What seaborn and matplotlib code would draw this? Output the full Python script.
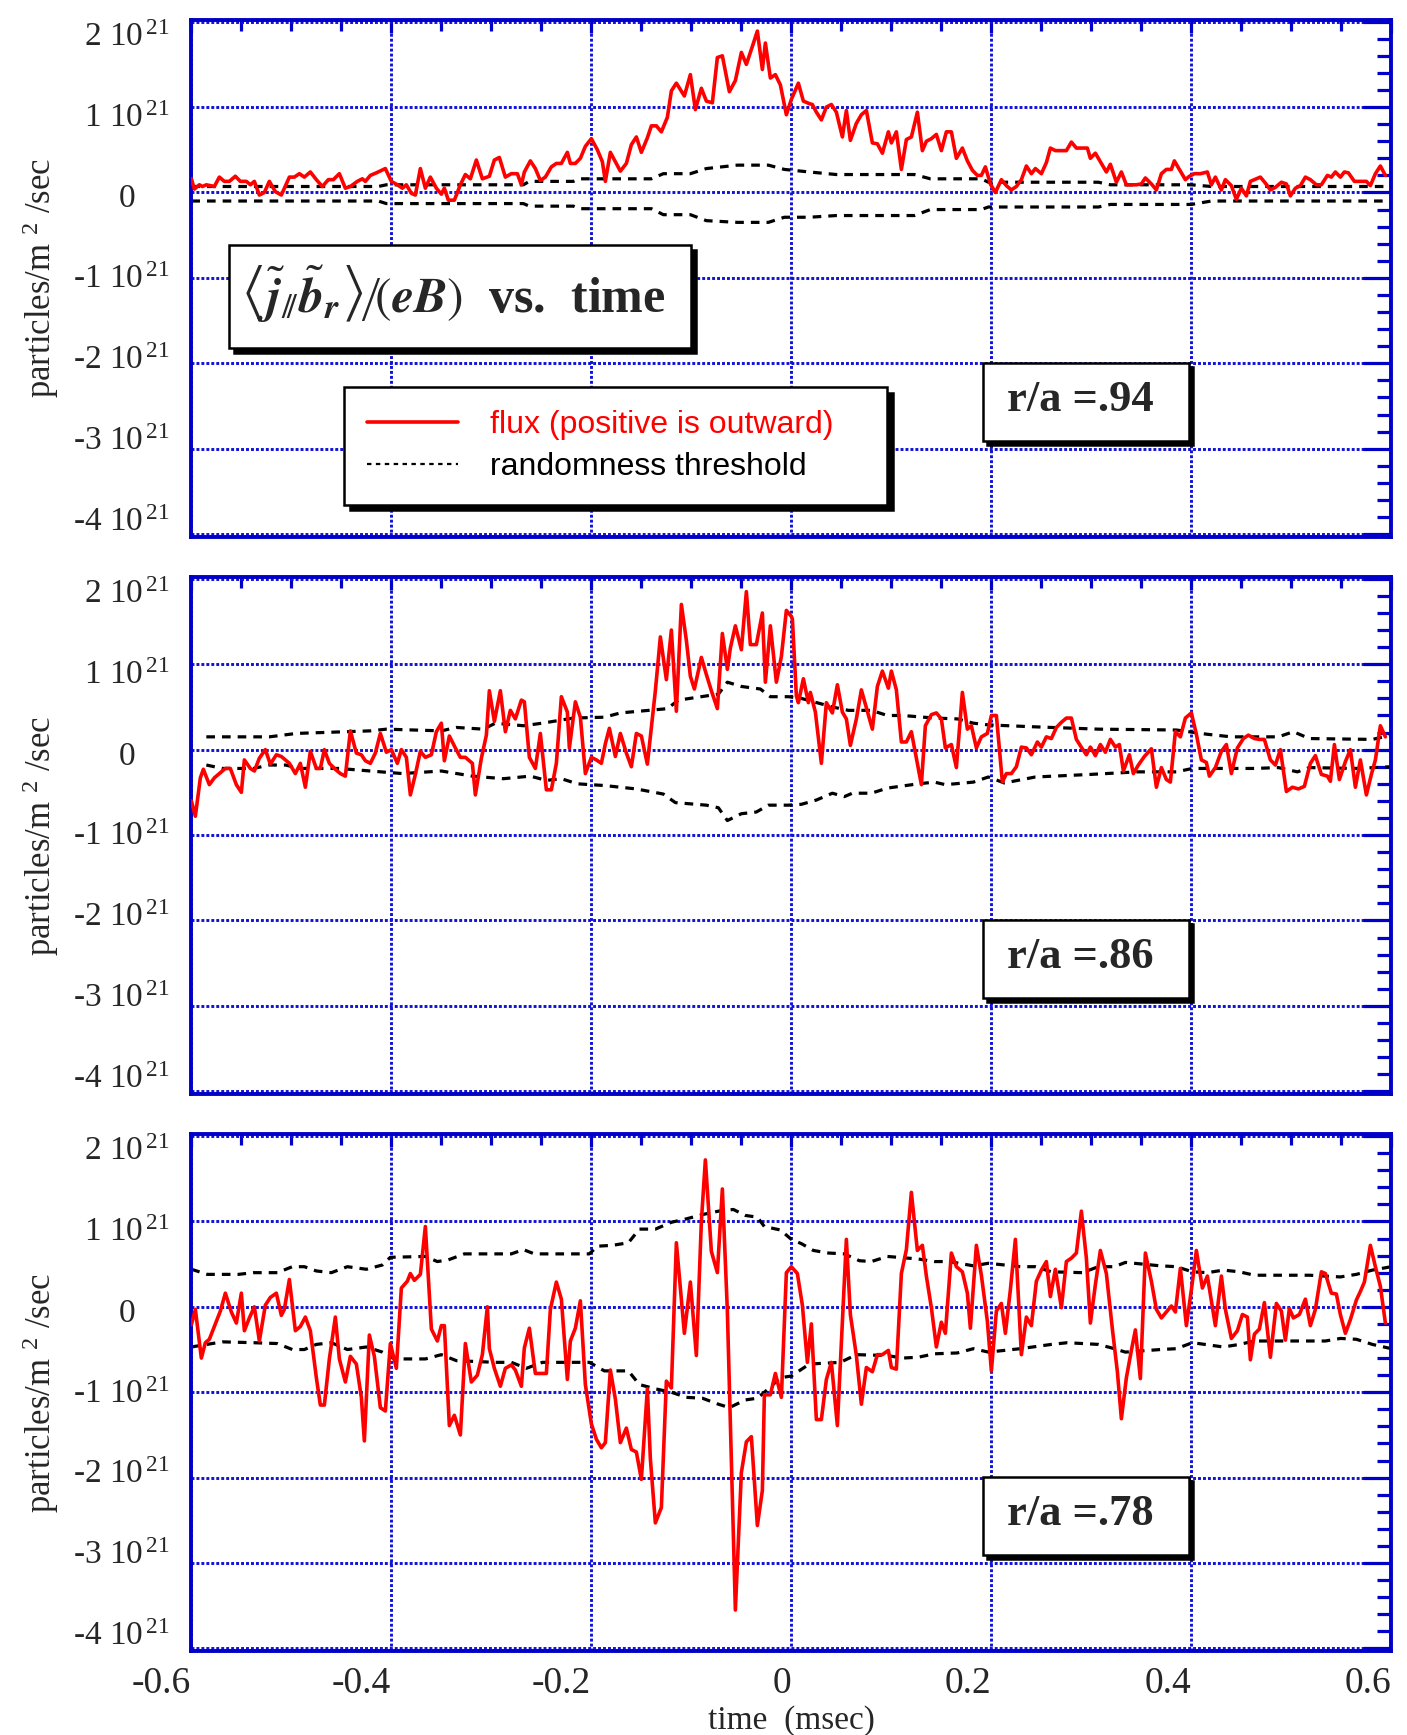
import matplotlib
matplotlib.use("Agg")
import matplotlib.pyplot as plt
import matplotlib.transforms as mtransforms
from matplotlib.patches import Rectangle
from matplotlib.ticker import FixedLocator, MultipleLocator, FuncFormatter
import pandas as pd
import seaborn as sns

# ---------------------------------------------------------------------------
# Flux <j_par b_r>/(eB) in units of 1e21 particles/m^2/sec, time in msec
# ---------------------------------------------------------------------------

# r/a = .94
t_flux_94 = [
    -0.600, -0.597, -0.592, -0.589, -0.585, -0.581, -0.577, -0.572, -0.567, -0.562,
    -0.556, -0.551, -0.545, -0.541, -0.537, -0.532, -0.527, -0.522, -0.516, -0.510,
    -0.502, -0.497, -0.492, -0.487, -0.481, -0.475, -0.469, -0.463, -0.458, -0.452,
    -0.446, -0.441, -0.434, -0.429, -0.426, -0.421, -0.415, -0.406, -0.400, -0.394,
    -0.389, -0.385, -0.380, -0.376, -0.371, -0.366, -0.361, -0.355, -0.350, -0.347,
    -0.343, -0.337, -0.331, -0.326, -0.321, -0.315, -0.309, -0.302, -0.297, -0.292,
    -0.286, -0.280, -0.274, -0.270, -0.267, -0.261, -0.256, -0.251, -0.246, -0.240,
    -0.235, -0.230, -0.224, -0.221, -0.216, -0.211, -0.206, -0.200, -0.194, -0.189,
    -0.186, -0.181, -0.176, -0.171, -0.165, -0.160, -0.155, -0.150, -0.144, -0.140,
    -0.135, -0.130, -0.124, -0.120, -0.115, -0.107, -0.101, -0.096, -0.090, -0.085,
    -0.079, -0.074, -0.069, -0.062, -0.056, -0.050, -0.045, -0.039, -0.034, -0.029,
    -0.026, -0.021, -0.016, -0.011, -0.005, 0.000,
    0.007, 0.012, 0.018, 0.021, 0.025, 0.030, 0.035, 0.040, 0.045, 0.051,
    0.055, 0.059, 0.065, 0.070, 0.075, 0.081, 0.086, 0.091, 0.097, 0.100,
    0.105, 0.110, 0.115, 0.120, 0.126, 0.131, 0.135, 0.140, 0.145, 0.150,
    0.155, 0.160, 0.165, 0.171, 0.176, 0.181, 0.186, 0.190, 0.194, 0.199,
    0.204, 0.210, 0.215, 0.220, 0.225, 0.230, 0.235, 0.240, 0.244, 0.250,
    0.255, 0.259, 0.264, 0.270, 0.275, 0.280, 0.285, 0.291, 0.296, 0.299,
    0.304, 0.309, 0.315, 0.319, 0.325, 0.330, 0.335, 0.340, 0.345, 0.350,
    0.354, 0.360, 0.365, 0.370, 0.375, 0.380, 0.383, 0.388, 0.394, 0.398,
    0.403, 0.409, 0.416, 0.420, 0.424, 0.430, 0.434, 0.440, 0.445, 0.450,
    0.455, 0.459, 0.463, 0.469, 0.474, 0.479, 0.484, 0.490, 0.495, 0.499,
    0.504, 0.509, 0.514, 0.519, 0.525, 0.530, 0.536, 0.540, 0.544, 0.549,
    0.553, 0.557, 0.563, 0.569, 0.575, 0.579, 0.584, 0.589, 0.594,
]
flux_94 = [
    0.16, 0.04, 0.09, 0.07, 0.09, 0.08, 0.07, 0.18, 0.13, 0.13,
    0.19, 0.13, 0.13, 0.09, 0.13, -0.03, 0.00, 0.13, 0.01, -0.03,
    0.18, 0.18, 0.22, 0.18, 0.24, 0.15, 0.07, 0.15, 0.15, 0.22,
    0.05, 0.07, 0.13, 0.16, 0.13, 0.20, 0.23, 0.28, 0.13, 0.09,
    0.05, 0.09, -0.01, -0.03, 0.28, 0.05, 0.18, 0.05, -0.02, 0.05,
    -0.09, -0.09, 0.09, 0.21, 0.16, 0.38, 0.16, 0.19, 0.38, 0.41,
    0.18, 0.22, 0.22, 0.09, 0.24, 0.37, 0.28, 0.14, 0.18, 0.30,
    0.34, 0.34, 0.47, 0.34, 0.34, 0.40, 0.54, 0.63, 0.50, 0.36,
    0.13, 0.47, 0.36, 0.25, 0.34, 0.56, 0.65, 0.47, 0.64, 0.78,
    0.78, 0.71, 0.88, 1.19, 1.28, 1.13, 1.38, 0.97, 1.22, 1.07,
    1.05, 1.58, 1.60, 1.18, 1.31, 1.64, 1.50, 1.71, 1.89, 1.44,
    1.75, 1.34, 1.38, 1.26, 0.91, 1.09,
    1.28, 1.07, 1.04, 1.03, 0.94, 0.85, 1.00, 1.03, 0.94, 0.65,
    0.96, 0.61, 0.81, 0.91, 0.96, 0.58, 0.57, 0.46, 0.71, 0.58,
    0.71, 0.27, 0.62, 0.65, 0.94, 0.49, 0.60, 0.63, 0.68, 0.49,
    0.71, 0.71, 0.40, 0.52, 0.37, 0.26, 0.20, 0.20, 0.30, 0.10,
    0.00, 0.15, 0.08, 0.03, 0.07, 0.15, 0.31, 0.22, 0.28, 0.22,
    0.35, 0.52, 0.49, 0.49, 0.49, 0.59, 0.52, 0.52, 0.52, 0.40,
    0.46, 0.36, 0.24, 0.33, 0.12, 0.24, 0.09, 0.09, 0.09, 0.10,
    0.17, 0.10, 0.03, 0.22, 0.27, 0.27, 0.37, 0.27, 0.15, 0.19,
    0.22, 0.22, 0.24, 0.09, 0.18, 0.03, 0.15, 0.08, -0.08, 0.05,
    -0.04, 0.13, 0.15, 0.18, 0.11, 0.03, 0.06, 0.12, 0.10, -0.04,
    0.05, 0.08, 0.18, 0.15, 0.09, 0.09, 0.20, 0.18, 0.24, 0.18,
    0.24, 0.23, 0.13, 0.13, 0.13, 0.08, 0.22, 0.31, 0.20,
]
t_thr_94 = [-0.600, -0.413, -0.405, -0.268, -0.262, -0.218, -0.212, -0.140, -0.128,
            -0.101, -0.085, -0.054, -0.023, -0.007, 0.018, 0.045, 0.123, 0.139,
            0.190, 0.197, 0.307, 0.319, 0.400, 0.420, 0.600]
thr_hi_94 = [0.07, 0.07, 0.09, 0.09, 0.13, 0.13, 0.16, 0.16, 0.22, 0.22, 0.28, 0.32,
             0.32, 0.27, 0.24, 0.21, 0.21, 0.16, 0.16, 0.12, 0.12, 0.09, 0.09, 0.07, 0.07]
thr_lo_94 = [-0.10, -0.10, -0.13, -0.13, -0.16, -0.16, -0.19, -0.19, -0.26, -0.26, -0.33,
             -0.35, -0.35, -0.29, -0.29, -0.27, -0.27, -0.20, -0.20, -0.17, -0.17, -0.14,
             -0.14, -0.10, -0.10]

# r/a = .86
t_flux_86 = [
    -0.600, -0.596, -0.591, -0.588, -0.582, -0.577, -0.571, -0.566, -0.561, -0.555,
    -0.550, -0.547, -0.541, -0.537, -0.532, -0.526, -0.521, -0.515, -0.510, -0.505,
    -0.502, -0.496, -0.491, -0.486, -0.481, -0.475, -0.471, -0.467, -0.462, -0.456,
    -0.451, -0.446, -0.441, -0.435, -0.430, -0.426, -0.421, -0.416, -0.411, -0.405,
    -0.400, -0.394, -0.390, -0.385, -0.381, -0.376, -0.371, -0.366, -0.360, -0.355,
    -0.350, -0.347, -0.342, -0.336, -0.331, -0.326, -0.319, -0.316, -0.310, -0.305,
    -0.302, -0.297, -0.291, -0.286, -0.281, -0.276, -0.270, -0.267, -0.262, -0.256,
    -0.251, -0.245, -0.240, -0.235, -0.230, -0.224, -0.222, -0.216, -0.211, -0.206,
    -0.200, -0.195, -0.190, -0.186, -0.182, -0.176, -0.171, -0.165, -0.160, -0.155,
    -0.150, -0.144, -0.136, -0.131, -0.125, -0.120, -0.115, -0.110, -0.105, -0.101,
    -0.097, -0.090, -0.085, -0.080, -0.074, -0.069, -0.064, -0.061, -0.056, -0.050,
    -0.045, -0.041, -0.035, -0.029, -0.026, -0.021, -0.015, -0.010, -0.005, 0.000,
    0.001, 0.005, 0.007, 0.012, 0.017, 0.019, 0.024, 0.030, 0.035, 0.041,
    0.046, 0.051, 0.055, 0.059, 0.065, 0.070, 0.075, 0.081, 0.086, 0.091,
    0.097, 0.100, 0.105, 0.110, 0.115, 0.120, 0.130, 0.134, 0.140, 0.145,
    0.150, 0.154, 0.160, 0.165, 0.171, 0.176, 0.180, 0.185, 0.190, 0.196,
    0.200, 0.205, 0.211, 0.215, 0.220, 0.225, 0.230, 0.235, 0.240, 0.246,
    0.250, 0.255, 0.260, 0.265, 0.270, 0.275, 0.280, 0.285, 0.291, 0.295,
    0.299, 0.304, 0.309, 0.314, 0.319, 0.324, 0.328, 0.332, 0.338, 0.342,
    0.347, 0.353, 0.360, 0.365, 0.370, 0.375, 0.379, 0.384, 0.389, 0.394,
    0.400, 0.405, 0.410, 0.415, 0.418, 0.424, 0.430, 0.435, 0.440, 0.446,
    0.452, 0.457, 0.463, 0.468, 0.473, 0.479, 0.484, 0.489, 0.495, 0.501,
    0.507, 0.513, 0.519, 0.524, 0.530, 0.536, 0.539, 0.543, 0.548, 0.554,
    0.559, 0.564, 0.569, 0.575, 0.580, 0.584, 0.589, 0.594,
]
flux_86 = [
    -0.60, -0.78, -0.33, -0.23, -0.41, -0.33, -0.27, -0.22, -0.22, -0.41,
    -0.50, -0.12, -0.22, -0.25, -0.10, 0.00, -0.17, -0.06, -0.08, -0.13,
    -0.16, -0.28, -0.16, -0.44, -0.02, -0.22, -0.22, 0.00, -0.16, -0.23,
    -0.28, -0.31, 0.22, -0.04, -0.06, -0.13, -0.16, -0.04, 0.19, -0.03,
    0.00, -0.16, 0.00, -0.09, -0.53, -0.29, -0.02, -0.09, -0.06, 0.21,
    0.31, -0.13, 0.16, 0.02, -0.09, -0.09, -0.16, -0.53, -0.10, 0.17,
    0.69, 0.33, 0.69, 0.21, 0.46, 0.36, 0.58, 0.56, -0.09, -0.22,
    0.19, -0.47, -0.47, -0.16, 0.62, 0.44, 0.02, 0.56, 0.38, -0.28,
    -0.09, -0.12, -0.16, 0.07, 0.25, -0.08, 0.19, -0.04, -0.20, 0.19,
    0.16, -0.17, 0.69, 1.32, 0.82, 1.40, 0.45, 1.70, 1.28, 0.86,
    0.71, 1.08, 0.88, 0.69, 0.48, 1.36, 0.94, 1.19, 1.45, 1.17,
    1.85, 1.23, 1.23, 1.60, 0.79, 1.45, 0.79, 1.09, 1.63, 1.56,
    1.53, 0.63, 0.55, 0.83, 0.55, 0.67, 0.44, -0.16, 0.55, 0.43,
    0.76, 0.44, 0.36, 0.05, 0.36, 0.70, 0.49, 0.24, 0.74, 0.92,
    0.72, 0.92, 0.70, 0.09, 0.09, 0.21, -0.41, 0.28, 0.41, 0.43,
    0.36, 0.02, 0.06, -0.21, 0.67, 0.24, 0.28, 0.02, 0.15, 0.19,
    0.40, 0.40, -0.38, -0.28, -0.28, -0.20, 0.03, 0.02, -0.06, 0.09,
    0.03, 0.15, 0.13, 0.26, 0.32, 0.37, 0.37, 0.12, 0.01, -0.06,
    0.03, -0.07, 0.06, -0.03, 0.12, 0.03, 0.06, -0.25, -0.06, -0.28,
    -0.18, -0.08, 0.01, -0.44, -0.21, -0.35, -0.38, 0.21, 0.15, 0.37,
    0.43, 0.18, -0.12, -0.15, -0.31, -0.21, -0.02, 0.06, -0.28, 0.02,
    0.13, 0.17, 0.13, 0.12, 0.12, -0.12, -0.18, 0.00, -0.49, -0.44,
    -0.46, -0.43, -0.16, -0.07, -0.29, -0.31, -0.37, 0.06, -0.35, -0.14,
    0.00, -0.44, -0.12, -0.53, -0.29, -0.12, 0.28, 0.15,
]
t_thr_hi_86 = [-0.585, -0.522, -0.495, -0.421, -0.405, -0.350, -0.335, -0.308, -0.296,
               -0.268, -0.249, -0.218, -0.187, -0.171, -0.124, -0.113, -0.073, -0.064,
               -0.050, -0.031, -0.021, -0.003, 0.010, 0.041, 0.057, 0.080, 0.096, 0.111,
               0.143, 0.166, 0.182, 0.197, 0.237, 0.307, 0.385, 0.416, 0.440, 0.487,
               0.502, 0.518, 0.581, 0.600]
thr_hi_86 = [0.15, 0.15, 0.19, 0.22, 0.24, 0.22, 0.26, 0.24, 0.31, 0.28, 0.31, 0.37,
             0.38, 0.43, 0.48, 0.58, 0.65, 0.79, 0.74, 0.71, 0.62, 0.62, 0.60, 0.50,
             0.46, 0.46, 0.40, 0.40, 0.37, 0.36, 0.31, 0.29, 0.27, 0.24, 0.23, 0.18,
             0.15, 0.15, 0.21, 0.13, 0.12, 0.17]
t_thr_lo_86 = [-0.585, -0.569, -0.538, -0.522, -0.506, -0.491, -0.452, -0.421, -0.389,
               -0.350, -0.319, -0.288, -0.261, -0.245, -0.230, -0.214, -0.187, -0.155,
               -0.128, -0.116, -0.085, -0.073, -0.064, -0.050, -0.035, -0.023, -0.003,
               0.010, 0.025, 0.041, 0.053, 0.061, 0.080, 0.096, 0.127, 0.143, 0.154,
               0.182, 0.197, 0.213, 0.244, 0.299, 0.346, 0.385, 0.401, 0.463, 0.487,
               0.506, 0.518, 0.565, 0.600]
thr_lo_86 = [-0.18, -0.22, -0.22, -0.18, -0.18, -0.22, -0.22, -0.25, -0.28, -0.25,
             -0.31, -0.34, -0.31, -0.36, -0.34, -0.40, -0.42, -0.46, -0.52, -0.62,
             -0.65, -0.68, -0.83, -0.75, -0.73, -0.65, -0.65, -0.64, -0.59, -0.51,
             -0.55, -0.51, -0.51, -0.45, -0.40, -0.38, -0.41, -0.38, -0.32, -0.39,
             -0.32, -0.29, -0.26, -0.26, -0.22, -0.22, -0.21, -0.26, -0.21, -0.22,
             -0.20]

# r/a = .78
t_flux_78 = [
    -0.600, -0.596, -0.590, -0.586, -0.582, -0.577, -0.571, -0.566, -0.560, -0.555,
    -0.550, -0.547, -0.542, -0.537, -0.532, -0.526, -0.521, -0.515, -0.510, -0.507,
    -0.502, -0.496, -0.491, -0.486, -0.481, -0.475, -0.471, -0.467, -0.462, -0.456,
    -0.452, -0.446, -0.441, -0.435, -0.430, -0.427, -0.422, -0.417, -0.411, -0.406,
    -0.401, -0.395, -0.390, -0.384, -0.381, -0.377, -0.371, -0.366, -0.360, -0.354,
    -0.350, -0.347, -0.342, -0.337, -0.331, -0.326, -0.320, -0.314, -0.309, -0.304,
    -0.302, -0.297, -0.291, -0.286, -0.280, -0.276, -0.270, -0.267, -0.262, -0.256,
    -0.251, -0.245, -0.241, -0.235, -0.230, -0.224, -0.221, -0.216, -0.211, -0.206,
    -0.200, -0.195, -0.190, -0.186, -0.181, -0.176, -0.171, -0.165, -0.160, -0.155,
    -0.150, -0.144, -0.141, -0.136, -0.130, -0.125, -0.120, -0.115, -0.107, -0.101,
    -0.095, -0.090, -0.086, -0.080, -0.074, -0.069, -0.064, -0.060, -0.056, -0.050,
    -0.045, -0.040, -0.034, -0.029, -0.027, -0.021, -0.016, -0.010, -0.005, 0.000,
    0.006, 0.011, 0.016, 0.020, 0.025, 0.030, 0.035, 0.040, 0.046, 0.055,
    0.059, 0.065, 0.070, 0.075, 0.081, 0.086, 0.091, 0.097, 0.100, 0.105,
    0.110, 0.115, 0.120, 0.126, 0.131, 0.135, 0.140, 0.145, 0.150, 0.154,
    0.160, 0.165, 0.171, 0.176, 0.179, 0.185, 0.190, 0.196, 0.200, 0.205,
    0.210, 0.214, 0.219, 0.224, 0.230, 0.235, 0.240, 0.245, 0.250, 0.255,
    0.259, 0.264, 0.270, 0.275, 0.280, 0.285, 0.290, 0.295, 0.299, 0.304,
    0.309, 0.315, 0.321, 0.326, 0.330, 0.335, 0.340, 0.344, 0.349, 0.354,
    0.360, 0.365, 0.370, 0.375, 0.380, 0.384, 0.389, 0.395, 0.400, 0.405,
    0.411, 0.416, 0.420, 0.424, 0.430, 0.434, 0.440, 0.446, 0.451, 0.456,
    0.459, 0.463, 0.468, 0.473, 0.479, 0.485, 0.490, 0.494, 0.498, 0.502,
    0.508, 0.514, 0.519, 0.524, 0.530, 0.534, 0.540, 0.545, 0.549, 0.554,
    0.559, 0.565, 0.569, 0.573, 0.579, 0.584, 0.589, 0.594,
]
flux_78 = [
    -0.21, -0.03, -0.60, -0.42, -0.38, -0.23, -0.05, 0.16, -0.06, -0.19,
    0.16, -0.28, -0.13, 0.00, -0.40, 0.02, 0.11, 0.16, -0.10, -0.03,
    0.32, -0.28, -0.23, -0.12, -0.28, -0.83, -1.15, -1.15, -0.61, -0.12,
    -0.61, -0.88, -0.58, -0.67, -1.06, -1.57, -0.33, -0.58, -1.18, -1.22,
    -0.43, -0.72, 0.22, 0.30, 0.39, 0.31, 0.38, 0.94, -0.26, -0.40,
    -0.22, -0.22, -1.39, -1.27, -1.50, -0.43, -0.88, -0.80, -0.56, 0.00,
    -0.49, -0.72, -0.93, -0.72, -0.68, -0.74, -0.93, -0.48, -0.25, -0.78,
    -0.78, -0.78, -0.03, 0.29, 0.09, -0.85, -0.40, -0.25, 0.07, -0.91,
    -1.37, -1.55, -1.65, -1.59, -0.74, -1.08, -1.59, -1.42, -1.67, -1.70,
    -2.02, -0.96, -1.78, -2.53, -2.35, -0.87, -0.95, 0.75, -0.31, 0.29,
    -0.57, 1.00, 1.72, 0.65, 0.40, 1.38, -0.05, -1.82, -3.55, -1.94,
    -1.58, -1.52, -2.56, -2.15, -1.03, -1.03, -0.78, -1.06, 0.40, 0.47,
    0.39, 0.02, -0.65, -0.20, -1.32, -1.32, -0.85, -0.65, -1.39, 0.79,
    -0.09, -0.57, -1.14, -0.71, -0.76, -0.56, -0.56, -0.51, -0.71, -0.73,
    0.39, 0.67, 1.34, 0.66, 0.72, 0.36, -0.01, -0.47, -0.18, -0.31,
    0.63, 0.47, 0.41, 0.16, -0.25, 0.72, 0.37, -0.17, -0.75, -0.05,
    0.04, -0.31, 0.20, 0.79, -0.56, -0.12, -0.22, 0.30, 0.43, 0.53,
    0.12, 0.44, -0.01, 0.53, 0.57, 0.63, 1.12, 0.57, -0.19, 0.26,
    0.66, 0.39, -0.26, -0.76, -1.31, -0.83, -0.51, -0.27, -0.84, 0.63,
    0.30, -0.03, -0.13, -0.06, 0.01, -0.06, 0.45, -0.22, 0.20, 0.66,
    0.22, 0.36, 0.07, -0.22, 0.36, -0.03, -0.37, -0.28, -0.09, -0.12,
    -0.62, -0.32, -0.26, 0.05, -0.59, 0.04, -0.05, -0.39, -0.02, -0.13,
    -0.09, 0.09, -0.22, -0.03, 0.41, 0.39, 0.16, 0.15, -0.09, -0.31,
    -0.15, 0.08, 0.18, 0.29, 0.72, 0.47, 0.24, -0.19,
]
t_thr_hi_78 = [-0.600, -0.584, -0.553, -0.538, -0.514, -0.499, -0.487, -0.475, -0.460,
               -0.444, -0.425, -0.409, -0.401, -0.366, -0.354, -0.343, -0.327, -0.280,
               -0.268, -0.257, -0.202, -0.194, -0.179, -0.163, -0.152, -0.136, -0.120,
               -0.105, -0.089, -0.073, -0.058, -0.046, -0.034, -0.027, -0.011, 0.000,
               0.010, 0.022, 0.037, 0.053, 0.068, 0.080, 0.096, 0.127, 0.143, 0.158,
               0.182, 0.197, 0.229, 0.244, 0.260, 0.291, 0.307, 0.323, 0.334, 0.369,
               0.385, 0.401, 0.416, 0.432, 0.448, 0.463, 0.518, 0.549, 0.565, 0.581,
               0.600]
thr_hi_78 = [0.44, 0.38, 0.38, 0.40, 0.40, 0.47, 0.47, 0.42, 0.40, 0.47,
             0.44, 0.49, 0.58, 0.59, 0.53, 0.55, 0.62, 0.62, 0.67, 0.62,
             0.62, 0.71, 0.72, 0.75, 0.91, 0.91, 0.99, 1.03, 1.08, 1.12,
             1.14, 1.07, 1.05, 0.94, 0.90, 0.79, 0.74, 0.66, 0.63, 0.62,
             0.54, 0.53, 0.59, 0.56, 0.53, 0.53, 0.48, 0.51, 0.47, 0.47,
             0.41, 0.40, 0.47, 0.47, 0.52, 0.48, 0.47, 0.41, 0.40, 0.43,
             0.41, 0.37, 0.37, 0.35, 0.38, 0.43, 0.47]
t_thr_lo_78 = [-0.600, -0.569, -0.538, -0.514, -0.499, -0.487, -0.475, -0.460, -0.444,
               -0.425, -0.409, -0.397, -0.366, -0.350, -0.335, -0.296, -0.280, -0.265,
               -0.249, -0.202, -0.187, -0.163, -0.152, -0.136, -0.120, -0.105, -0.089,
               -0.073, -0.062, -0.046, -0.034, -0.023, -0.011, 0.000, 0.018, 0.049,
               0.065, 0.096, 0.111, 0.127, 0.143, 0.166, 0.182, 0.197, 0.229, 0.260,
               0.276, 0.307, 0.323, 0.334, 0.369, 0.385, 0.401, 0.432, 0.448, 0.463,
               0.534, 0.549, 0.565, 0.581, 0.600]
thr_lo_78 = [-0.47, -0.41, -0.42, -0.43, -0.50, -0.50, -0.44, -0.42, -0.50, -0.47,
             -0.53, -0.61, -0.61, -0.56, -0.63, -0.65, -0.65, -0.72, -0.65, -0.65,
             -0.75, -0.75, -0.91, -0.96, -1.00, -1.06, -1.07, -1.14, -1.18, -1.09,
             -1.07, -0.96, -0.83, -0.81, -0.67, -0.65, -0.56, -0.57, -0.60, -0.59,
             -0.55, -0.54, -0.49, -0.53, -0.49, -0.44, -0.42, -0.44, -0.49, -0.53,
             -0.50, -0.49, -0.42, -0.47, -0.44, -0.40, -0.40, -0.37, -0.38, -0.44,
             -0.49]

# axis ticks and labels
x_ticks = [-0.6, -0.4, -0.2, 0.0, 0.2, 0.4, 0.6]
x_tick_labels = ["-0.6", "-0.4", "-0.2", "0", "0.2", "0.4", "0.6"]
y_ticks = [-4, -3, -2, -1, 0, 1, 2]
radius_labels = ["r/a =.94", "r/a =.86", "r/a =.78"]
flux_label = "flux (positive is outward)"
threshold_label = "randomness threshold"

# ---------------------------------------------------------------------------
sns.set_style("white")
plt.rcParams.update({
    "font.family": ["Liberation Serif", "DejaVu Serif"],
    "mathtext.fontset": "custom",
    "mathtext.rm": "Liberation Serif",
    "mathtext.it": "Liberation Serif:italic",
    "mathtext.bf": "Liberation Serif:bold",
    "axes.unicode_minus": False,
})

FRAME_BLUE = "#0000c8"
GRID_BLUE = "#1010d8"
FLUX_RED = "#ff0000"
THR_STYLE = (0, (2.7, 2.2))

fig, axes = plt.subplots(3, 1, figsize=(14.07, 17.35), dpi=100)
fig.subplots_adjust(left=0.1360, right=0.9889, top=0.9885, bottom=0.0484, hspace=0.0783)


def y_fmt(v, pos):
    n = int(round(v))
    if n == 0:
        return "0    "
    return f"{n} 10$^{{\\,21}}$"


def boxed(ax, x0, y0, w, h, off=5, lw=1.8, z=8):
    fig_ = ax.figure
    shadow_tr = mtransforms.offset_copy(ax.transAxes, fig=fig_, x=off, y=-off, units="dots")
    ax.add_patch(Rectangle((x0, y0), w, h, transform=shadow_tr, fc="black", ec="black",
                           lw=lw, zorder=z, clip_on=False))
    ax.add_patch(Rectangle((x0, y0), w, h, transform=ax.transAxes, fc="white", ec="black",
                           lw=lw, zorder=z + 0.5, clip_on=False))


panels = [
    (t_flux_94, flux_94, t_thr_94, thr_hi_94, t_thr_94, thr_lo_94),
    (t_flux_86, flux_86, t_thr_hi_86, thr_hi_86, t_thr_lo_86, thr_lo_86),
    (t_flux_78, flux_78, t_thr_hi_78, thr_hi_78, t_thr_lo_78, thr_lo_78),
]

for i, (ax, (tf, fl, th, hi, tl, lo)) in enumerate(zip(axes, panels)):
    flux_df = pd.DataFrame({"time": tf, "flux": fl})
    hi_df = pd.DataFrame({"time": th, "flux": hi})
    lo_df = pd.DataFrame({"time": tl, "flux": lo})
    sns.lineplot(data=flux_df, x="time", y="flux", ax=ax, color=FLUX_RED, lw=2.6,
                 estimator=None, sort=False, legend=False, zorder=3)
    sns.lineplot(data=hi_df, x="time", y="flux", ax=ax, color="black", lw=2.3,
                 linestyle=THR_STYLE, estimator=None, sort=False, legend=False, zorder=2)
    sns.lineplot(data=lo_df, x="time", y="flux", ax=ax, color="black", lw=2.3,
                 linestyle=THR_STYLE, estimator=None, sort=False, legend=False, zorder=2)

    ax.set_xlim(-0.6, 0.6)
    ax.set_ylim(-4.03, 2.02)
    ax.set_xticks(x_ticks)
    ax.xaxis.set_minor_locator(MultipleLocator(0.05))
    ax.yaxis.set_major_locator(FixedLocator(y_ticks))
    ax.yaxis.set_minor_locator(MultipleLocator(0.2))
    ax.yaxis.set_major_formatter(FuncFormatter(y_fmt))
    ax.grid(True, which="major", color=GRID_BLUE, ls=(0, (1.0, 0.7)), lw=2.1)
    ax.set_axisbelow(True)
    ax.tick_params(which="both", direction="in", top=True, right=True,
                   color=FRAME_BLUE, width=2.3)
    ax.tick_params(axis="y", which="major", length=20, pad=16, labelsize=24)
    ax.tick_params(axis="y", which="minor", length=10)
    ax.tick_params(axis="x", which="major", length=9, pad=11, labelsize=27)
    ax.tick_params(axis="x", which="minor", length=8)
    for sp in ax.spines.values():
        sp.set_color(FRAME_BLUE)
        sp.set_linewidth(2.8)

    if i == 2:
        ax.set_xticklabels(x_tick_labels, ha="right")
        ax.set_xlabel("time  (msec)", fontsize=24)
        ax.xaxis.set_label_coords(0.5, -0.105)
    else:
        ax.tick_params(axis="x", labelbottom=False)
        ax.set_xlabel("")

    ax.set_ylabel("particles/m $^{2}$ /sec", fontsize=25)
    ax.yaxis.set_label_coords(-0.109, 0.5)

    # the y labels sit slightly inside the frame at both ends
    for tick, val in zip(ax.yaxis.get_major_ticks(), y_ticks):
        shift = -(val + 0.7) * 3.3 / 72.0
        lab = tick.label1
        lab.set_transform(lab.get_transform()
                          + mtransforms.ScaledTranslation(0, shift, fig.dpi_scale_trans))

    # radius tag
    boxed(ax, 0.660, 0.186, 0.1717, 0.150, off=4)
    ax.text(0.741, 0.265, radius_labels[i], transform=ax.transAxes, ha="center",
            va="center", fontsize=32, fontweight="bold", zorder=10)

# title box and legend on the top panel
ax0 = axes[0]
boxed(ax0, 0.0317, 0.3642, 0.385, 0.2003, off=5)
title = (r"$\left\langle\tilde{\mathbfit{j}}_{/\!/}\tilde{\mathbfit{b}}_{\mathbfit{r}}"
         r"\right\rangle\!\left/\!\left(\mathbfit{eB}\right)\right.$  vs.  time")
ax0.text(0.2177, 0.47, title, transform=ax0.transAxes, ha="center", va="center",
         fontsize=36, fontweight="bold", math_fontfamily="stix", zorder=10)

flux_line, hi_line = ax0.lines[0], ax0.lines[1]
leg = ax0.legend([flux_line, hi_line], [flux_label, threshold_label],
                 loc="center left", bbox_to_anchor=(0.1275, 0.0578, 0.4525, 0.235),
                 mode="expand", borderaxespad=0, fancybox=False, framealpha=1,
                 edgecolor="black",
                 shadow={"ox": 4, "oy": -4, "color": "black", "alpha": 1},
                 prop={"family": "Liberation Sans", "size": 23},
                 handlelength=2.85, handletextpad=1.0, labelspacing=0.4, borderpad=0.7)
leg.get_frame().set_linewidth(1.8)
leg.set_zorder(10)
for txt, col in zip(leg.get_texts(), [FLUX_RED, "black"]):
    txt.set_color(col)
# thinner, finer dashes for the threshold key
leg.get_lines()[1].set_linewidth(1.6)
leg.get_lines()[1].set_linestyle((0, (2.0, 2.0)))

fig.savefig("out.png", dpi=100, facecolor="white")
